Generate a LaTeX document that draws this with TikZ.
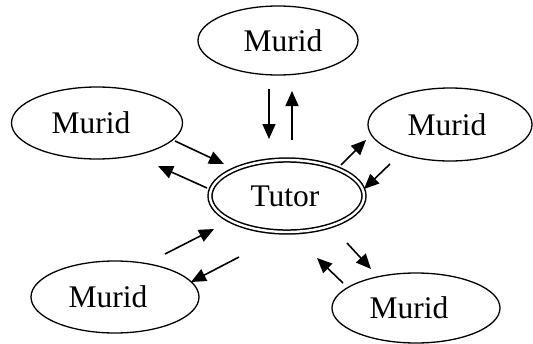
\documentclass[tikz,border=0pt]{standalone}
\usepackage{fontspec}
\setmainfont{Liberation Serif}
\usetikzlibrary{shapes.geometric,arrows.meta}
\begin{document}
\begin{tikzpicture}[x=1pt,y=-1pt,
  murid/.style={draw,ellipse,line width=1.3pt,inner sep=0pt,
    minimum width=168pt,minimum height=72pt,font=\fontsize{31.5}{33}\selectfont},
  tutor/.style={draw,ellipse,line width=1.5pt,double,double distance=2.4pt,inner sep=0pt,
    minimum width=154pt,minimum height=72pt,font=\fontsize{31.5}{33}\selectfont},
  flow/.style={line width=1.6pt,-{Triangle[length=15pt,width=13pt]}}]
\useasboundingbox (0,0) rectangle (533,343);

% nodes (the \hspace* nudges the label sideways inside its ellipse)
\node[tutor] (T) at (287,196) {\hspace*{-4pt}Tutor};
\node[murid,minimum width=160pt,minimum height=69pt] (M1) at (278,40.5) {Murid\hspace*{-10pt}};
\node[murid,minimum width=171pt] (M2) at (97,123) {\hspace*{-12pt}Murid};
\node[murid,minimum width=164pt,minimum height=73pt] (M3) at (450,124.5) {\hspace*{-6pt}Murid};
\node[murid] (M4) at (115,297) {\hspace*{-14pt}Murid};
\node[murid,minimum height=70pt] (M5) at (416,308) {\hspace*{-14pt}Murid};

% arrow end points
\coordinate (a1s) at (269,89);  \coordinate (a1e) at (269,139);
\coordinate (a2s) at (292,140); \coordinate (a2e) at (292,91);
\coordinate (b1s) at (175,141); \coordinate (b1e) at (224,164);
\coordinate (b2s) at (207,188); \coordinate (b2e) at (158,166);
\coordinate (c1s) at (341,165); \coordinate (c1e) at (366,140);
\coordinate (c2s) at (390,164); \coordinate (c2e) at (364,189);
\coordinate (d1s) at (165,254); \coordinate (d1e) at (214,229);
\coordinate (d2s) at (239,257); \coordinate (d2e) at (191,282);
\coordinate (e1s) at (347,243); \coordinate (e1e) at (371,269);
\coordinate (e2s) at (343,283); \coordinate (e2e) at (317,258);

% exchanges between each murid and the tutor
\draw[flow] (a1s) -- (a1e);
\draw[flow] (a2s) -- (a2e);
\draw[flow] (b1s) -- (b1e);
\draw[flow] (b2s) -- (b2e);
\draw[flow] (c1s) -- (c1e);
\draw[flow] (c2s) -- (c2e);
\draw[flow] (d1s) -- (d1e);
\draw[flow] (d2s) -- (d2e);
\draw[flow] (e1s) -- (e1e);
\draw[flow] (e2s) -- (e2e);
\end{tikzpicture}
\end{document}
